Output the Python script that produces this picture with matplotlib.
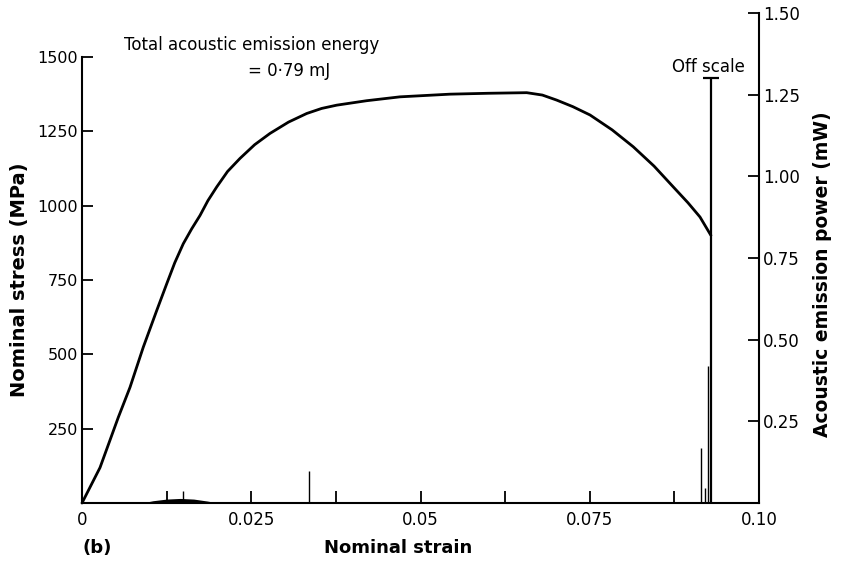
import matplotlib
matplotlib.use('Agg')
import matplotlib.pyplot as plt

# stress-strain curve
strain = [0.0, 0.00266, 0.00536, 0.00709, 0.00905, 0.01103, 0.01251, 0.0137,
          0.01496, 0.0162, 0.01743, 0.0186, 0.0199, 0.0215, 0.02334, 0.0255,
          0.02777, 0.0305, 0.03319, 0.0354, 0.03762, 0.04205, 0.04697, 0.05436,
          0.06, 0.06569, 0.068, 0.07012, 0.0725, 0.07504, 0.0783, 0.08143,
          0.0845, 0.08734, 0.0895, 0.09128, 0.0929]
stress = [0, 119, 288, 389, 524, 647, 737, 808,
          872, 922, 967, 1017, 1063, 1115, 1159, 1205,
          1243, 1281, 1310, 1327, 1338, 1353, 1366, 1375,
          1378, 1380, 1372, 1355, 1333, 1305, 1255, 1198,
          1133, 1063, 1010, 962, 900]

# acoustic emission power (mW)
hump_strain = [0.0088, 0.0105, 0.0125, 0.0145, 0.0165, 0.0185, 0.0201]
hump_power = [0.0, 0.007, 0.012, 0.014, 0.012, 0.006, 0.0]
spike_strain = [0.0149, 0.0336, 0.0915, 0.0920, 0.0924]
spike_power = [0.036, 0.098, 0.167, 0.045, 0.42]
off_strain = 0.0929
off_power = 1.30

x_ticks = [0, 0.025, 0.05, 0.075, 0.10]
x_labels = ['0', '0.025', '0.05', '0.075', '0.10']
x_minor = [0.0125, 0.0375, 0.0625, 0.0875]
left_ticks = [250, 500, 750, 1000, 1250, 1500]
right_ticks = [0.25, 0.50, 0.75, 1.00, 1.25, 1.50]
right_labels = ['0.25', '0.50', '0.75', '1.00', '1.25', '1.50']

W, H = 843, 564
def fx(x):
    return x / W
def fy(y):
    return 1 - y / H

fig = plt.figure(figsize=(W / 100, H / 100), dpi=100)
x0, x1, yb, yt1, yt2 = 82, 759, 503, 57, 13
ax1 = fig.add_axes([fx(x0), fy(yb), (x1 - x0) / W, (yb - yt1) / H])
ax2 = fig.add_axes([fx(x0), fy(yb), (x1 - x0) / W, (yb - yt2) / H])
ax2.patch.set_visible(False)

for s in ['top', 'right']:
    ax1.spines[s].set_visible(False)
for s in ['top', 'left', 'bottom']:
    ax2.spines[s].set_visible(False)
for ax in (ax1, ax2):
    for s in ax.spines.values():
        s.set_linewidth(1.5)

ax1.set_xlim(0, 0.1)
ax1.set_ylim(0, 1500)
ax2.set_xlim(0, 0.1)
ax2.set_ylim(0, 1.5)

ax1.plot(strain, stress, color='black', lw=2, clip_on=False,
         solid_capstyle='round', solid_joinstyle='round')

ax2.plot([0, off_strain + 0.0004], [0, 0], color='black', lw=1.2)
ax2.fill_between(hump_strain, 0, hump_power, color='black', lw=0)
ax2.vlines(spike_strain, 0, spike_power, color='black', lw=1.0)
ax2.vlines(off_strain, 0, off_power, color='black', lw=1.6)
ax2.hlines(off_power, off_strain - 0.0012, off_strain + 0.0012, color='black', lw=1.6)

ax1.set_xticks(x_ticks)
ax1.set_xticklabels(x_labels)
ax1.set_xticks(x_minor, minor=True)
ax1.tick_params(axis='x', which='both', direction='in', length=9, width=1.3, pad=6, labelsize=12)
ax1.set_yticks(left_ticks)
ax1.set_yticklabels([str(t) for t in left_ticks])
ax1.tick_params(axis='y', direction='in', length=8, width=1.3, pad=3, labelsize=11.5)

ax2.set_xticks([])
ax2.yaxis.tick_right()
ax2.set_yticks(right_ticks)
ax2.set_yticklabels(right_labels)
ax2.tick_params(axis='y', direction='in', length=8, width=1.3, pad=3, labelsize=12)

fig.text(fx(124), fy(45), 'Total acoustic emission energy', fontsize=12, va='center', ha='left')
fig.text(fx(248), fy(71), '= 0·79 mJ', fontsize=12, va='center', ha='left')
fig.text(fx(708), fy(67), 'Off scale', fontsize=12, va='center', ha='center')
fig.text(fx(97), fy(548), '(b)', fontsize=13, fontweight='bold', va='center', ha='center')
fig.text(fx(398), fy(548), 'Nominal strain', fontsize=13, fontweight='bold', va='center', ha='center')
fig.text(fx(20), fy(280), 'Nominal stress (MPa)', fontsize=14, fontweight='bold',
         rotation=90, va='center', ha='center')
fig.text(fx(822), fy(274), 'Acoustic emission power (mW)', fontsize=13.5, fontweight='bold',
         rotation=90, va='center', ha='center')

fig.savefig('out.png', dpi=100)
